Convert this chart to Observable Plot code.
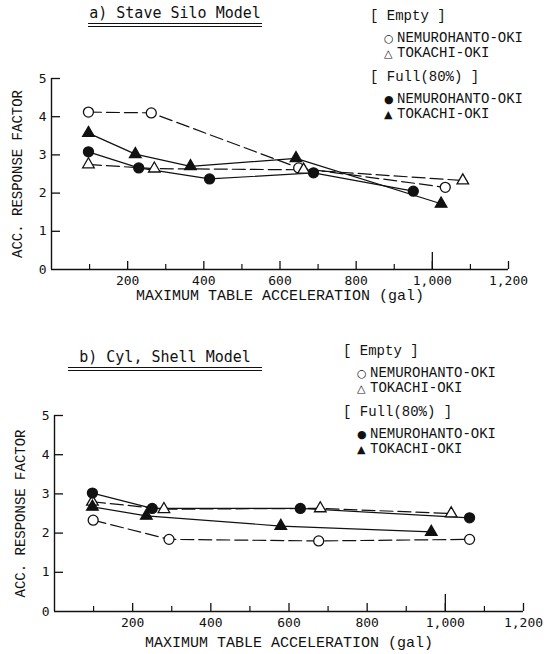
<!DOCTYPE html>
<html>
<head>
<meta charset="utf-8">
<script src="https://cdn.jsdelivr.net/npm/d3@7"></script>
<script src="https://cdn.jsdelivr.net/npm/@observablehq/plot@0.6"></script>
<style>
  html, body { margin: 0; padding: 0; background: #fff; }
  #root { position: relative; width: 548px; height: 654px; overflow: hidden; background: #fff; }
  .panel { position: absolute; left: 0; }
  .title { position: absolute; font-family: "DejaVu Sans Mono", monospace; font-size: 15px; color: #111;
           text-align: center; border-bottom: 4px double #111; line-height: 18px; padding-bottom: 1px; }
  .legend { position: absolute; font-family: "Liberation Mono", "Courier New", Cousine, Courier, monospace; font-size: 14px; color: #111; line-height: 15px; }
  .legend .row { margin-left: 14px; white-space: pre; }
  .legend .sym { display: inline-block; width: 13px; font-family: "DejaVu Sans", sans-serif; font-size: 11px; }
</style>
</head>
<body>
<div id="root"></div>
<script>
// ---- data ----
const xTicksMajor = [200, 400, 600, 800, 1000, 1200];
const xTicksMinor = [100, 300, 500, 700, 900, 1100];
const yTicks = [0, 1, 2, 3, 4, 5];
const groupNames = ["[ Empty ]", "[ Full(80%) ]"];
const quakeNames = ["NEMUROHANTO-OKI", "TOKACHI-OKI"];
const panelTitles = ["a) Stave Silo Model", "b) Cyl, Shell Model"];
const xLabel = "MAXIMUM TABLE ACCELERATION (gal)";
const yLabel = "ACC. RESPONSE FACTOR";

// a) Stave Silo Model
const staveEmptyNemuroX = [97, 262, 649, 1034];
const staveEmptyNemuroY = [4.12, 4.10, 2.66, 2.15];
const staveEmptyTokachiX = [97, 270, 662, 1080];
const staveEmptyTokachiY = [2.75, 2.64, 2.61, 2.33];
const staveFullNemuroX = [97, 229, 415, 688, 950];
const staveFullNemuroY = [3.08, 2.66, 2.37, 2.53, 2.05];
const staveFullTokachiX = [97, 220, 365, 642, 1023];
const staveFullTokachiY = [3.57, 3.02, 2.70, 2.91, 1.72];

// b) Cyl. Shell Model
const cylEmptyNemuroX = [99, 293, 676, 1062];
const cylEmptyNemuroY = [2.33, 1.84, 1.80, 1.84];
const cylEmptyTokachiX = [97, 280, 680, 1015];
const cylEmptyTokachiY = [2.80, 2.61, 2.63, 2.50];
const cylFullNemuroX = [97, 250, 629, 1062];
const cylFullNemuroY = [3.02, 2.63, 2.63, 2.39];
const cylFullTokachiX = [97, 235, 579, 964];
const cylFullTokachiY = [2.67, 2.44, 2.18, 2.03];

const zip = (xs, ys) => xs.map((x, i) => ({x, y: ys[i]}));
const MONO = "'Liberation Mono', 'Courier New', Cousine, Courier, monospace";

function makeChart(series, {height, mt, mb, ml, mr, labelDy}) {
  const plotH = height - mt - mb;
  const plotW = 548 - ml - mr;
  const marks = [
    Plot.ruleY([0], {strokeWidth: 1.4}),
    Plot.ruleX([0], {strokeWidth: 1.4}),
    Plot.ruleX(xTicksMajor, {x: d => d, insetTop: plotH - 8, strokeWidth: 1.3}),
    Plot.ruleX(xTicksMinor, {x: d => d, insetTop: plotH - 5, strokeWidth: 1.2}),
    Plot.ruleX([1000], {x: d => d, insetTop: plotH - 17, strokeWidth: 1.3}),
    Plot.ruleY(yTicks.slice(1), {y: d => d, insetRight: plotW - 9, strokeWidth: 1.3}),
    Plot.axisX(xTicksMajor, {tickSize: 0, tickPadding: 6, tickFormat: d3.format(","), label: null,
      fontFamily: "DejaVu Sans Mono", fontSize: 13}),
    Plot.axisY(yTicks, {tickSize: 0, tickPadding: 5, label: null,
      fontFamily: "DejaVu Sans Mono", fontSize: 13}),
    Plot.text([xLabel], {frameAnchor: "bottom", textAnchor: "middle", dy: labelDy, fontFamily: MONO, fontSize: 15,
      fill: "#111"}),
    Plot.text([yLabel], {frameAnchor: "left", textAnchor: "middle", rotate: -90, dx: -34, fontFamily: MONO, fontSize: 14,
      fill: "#111"})
  ];
  for (const s of series) {
    marks.push(Plot.line(s.data, {x: "x", y: "y", stroke: "#111", strokeWidth: 1.2,
      strokeDasharray: s.dashed ? "13,5" : null}));
  }
  for (const s of series) {
    marks.push(Plot.dot(s.data, {x: "x", y: "y", symbol: s.symbol, r: s.symbol === "triangle" ? 4.3 : 5,
      fill: s.filled ? "#111" : "#fff", stroke: "#111", strokeWidth: 1.3}));
  }
  return Plot.plot({
    width: 548, height,
    marginTop: mt, marginBottom: mb, marginLeft: ml, marginRight: mr,
    x: {domain: [0, 1200], axis: null},
    y: {domain: [0, 5], axis: null},
    style: {background: "transparent", color: "#111"},
    marks
  });
}

function seriesSet(en, et, fn, ft) {
  return [
    {data: en, symbol: "circle", filled: false, dashed: true},
    {data: et, symbol: "triangle", filled: false, dashed: true},
    {data: fn, symbol: "circle", filled: true, dashed: false},
    {data: ft, symbol: "triangle", filled: true, dashed: false}
  ];
}

const root = document.getElementById("root");

function addPanel(top, svg) {
  const d = document.createElement("div");
  d.className = "panel";
  d.style.top = top + "px";
  d.appendChild(svg);
  root.appendChild(d);
}

function addTitle(text, left, top, width) {
  const d = document.createElement("div");
  d.className = "title";
  d.style.left = left + "px"; d.style.top = top + "px"; d.style.width = width + "px";
  d.textContent = text;
  root.appendChild(d);
}

function addLegend(left, top) {
  const d = document.createElement("div");
  d.className = "legend";
  d.style.left = left + "px"; d.style.top = top + "px";
  const syms = [["○", "△"], ["●", "▲"]];
  groupNames.forEach((g, gi) => {
    const h = document.createElement("div");
    h.style.marginTop = gi === 0 ? "0px" : "9px";
    h.style.marginBottom = "7px";
    h.textContent = g;
    d.appendChild(h);
    quakeNames.forEach((q, qi) => {
      const r = document.createElement("div");
      r.className = "row";
      const s = document.createElement("span");
      s.className = "sym";
      s.textContent = syms[gi][qi];
      r.appendChild(s);
      r.appendChild(document.createTextNode(q));
      d.appendChild(r);
    });
  });
  root.appendChild(d);
}

addPanel(0, makeChart(seriesSet(
  zip(staveEmptyNemuroX, staveEmptyNemuroY), zip(staveEmptyTokachiX, staveEmptyTokachiY),
  zip(staveFullNemuroX, staveFullNemuroY), zip(staveFullTokachiX, staveFullTokachiY)),
  {height: 310, mt: 78, mb: 41, ml: 51, mr: 40, labelDy: 30}));

addPanel(310, makeChart(seriesSet(
  zip(cylEmptyNemuroX, cylEmptyNemuroY), zip(cylEmptyTokachiX, cylEmptyTokachiY),
  zip(cylFullNemuroX, cylFullNemuroY), zip(cylFullTokachiX, cylFullTokachiY)),
  {height: 344, mt: 105, mb: 43, ml: 54, mr: 25, labelDy: 35}));

addTitle(panelTitles[0], 88, 4, 174);
addTitle(panelTitles[1], 68, 348, 194);
addLegend(370, 9);
addLegend(343, 344);
</script>
</body>
</html>
